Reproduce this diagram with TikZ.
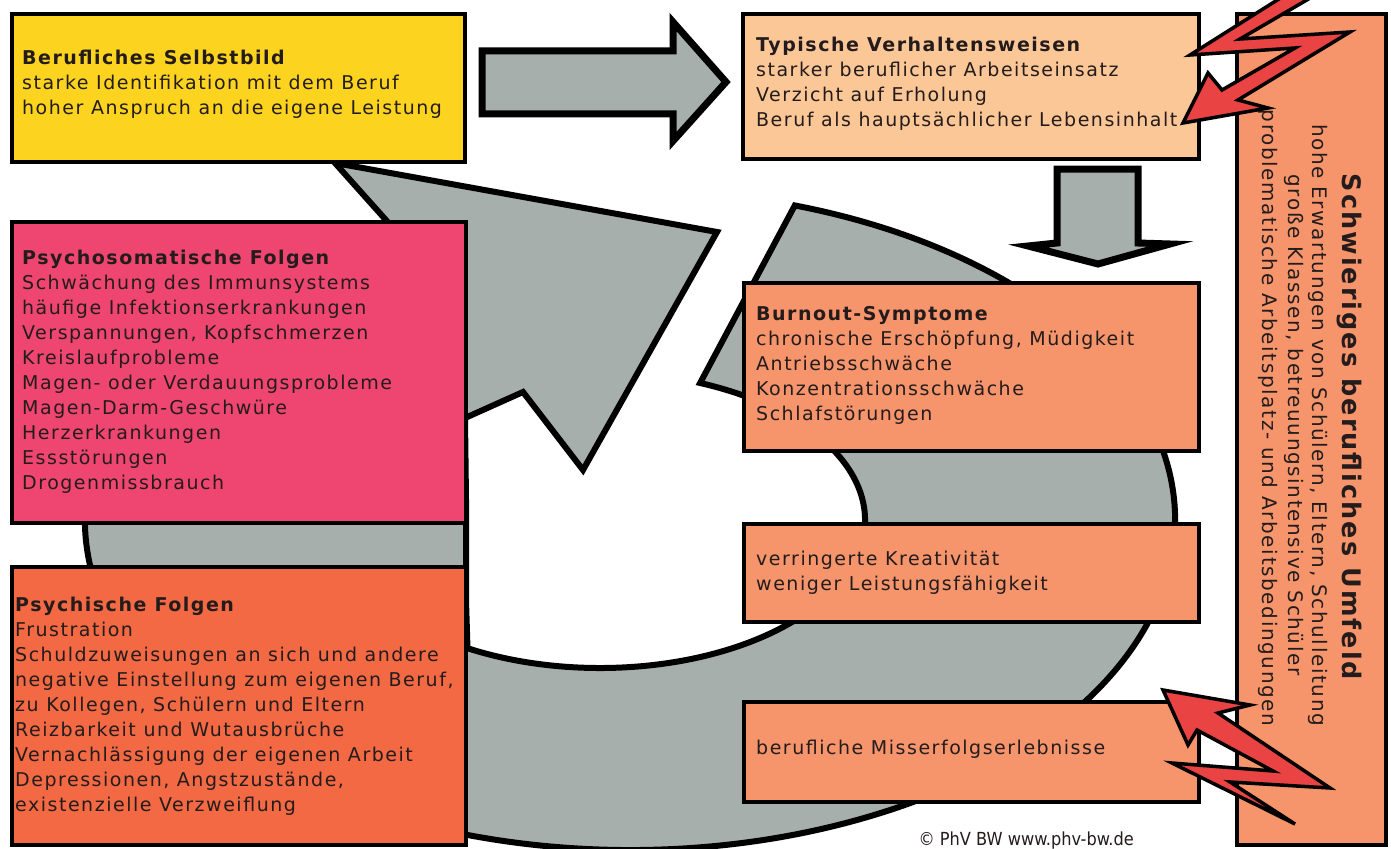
\documentclass[tikz,border=0pt]{standalone}
\usepackage{fontspec}
\setmainfont{DejaVu Sans}[LetterSpace=8, BoldFeatures={LetterSpace=8}]
\newfontfamily\schmalfont{DejaVu Sans Condensed}
\usepackage{tikz}

\definecolor{ringgrau}{HTML}{A7AFAD}
\definecolor{selbstgelb}{HTML}{FCD41F}
\definecolor{pfirsich}{HTML}{FBC797}
\definecolor{somarot}{HTML}{EE4670}
\definecolor{psychorange}{HTML}{F26944}
\definecolor{lachs}{HTML}{F6956C}
\definecolor{blitzrot}{HTML}{E94343}
\definecolor{schrift}{HTML}{241C1C}

\begin{document}
\begin{tikzpicture}[x=1pt, y=-1pt,
  box/.style={draw=black, line width=4pt, inner sep=0pt, anchor=north west},
  txt/.style={anchor=base west, align=left, inner sep=0pt, text=schrift,
    font=\fontsize{19}{25}\selectfont},
  umfeld/.style={rotate=-90, anchor=base, inner sep=0pt, text=schrift,
    font=\fontsize{20}{25}\selectfont},
  ring/.style={draw=black, fill=ringgrau, line width=6pt},
  pfeil/.style={draw=black, fill=ringgrau, line width=7pt},
  blitz/.style={draw=black, fill=blitzrot, line width=3.5pt}]

  \newcommand\AX{545}
  \newcommand\AY{330}
  \newcommand\IX{265}
  \newcommand\IY{148}

  \fill[white] (0,0) rectangle (1391,848);
  \useasboundingbox (0,0) rectangle (1391,848);

  \draw[ring] (717,232) -- (335,163) -- (389.4,223.9)
    arc[start angle=-116.2, end angle=-432.4, x radius=\AX, y radius=\AY]
    -- (700.1,383)
    arc[start angle=-67.8, end angle=120, x radius=\IX, y radius=\IY]
    -- (466,600) -- (466,500) -- (465,418)
    -- (523,392) -- (583,470) -- cycle;

  \node[box, fill=selbstgelb, minimum width=453pt, minimum height=148pt] (selbstbild) at (10,12) {};
  \node[box, fill=pfirsich, minimum width=456pt, minimum height=145pt] (verhalten) at (741,12) {};
  \node[box, fill=somarot, minimum width=454pt, minimum height=301pt] (psychosoma) at (10,220) {};
  \node[box, fill=psychorange, minimum width=454pt, minimum height=278pt] (psychisch) at (10,565) {};
  \node[box, fill=lachs, minimum width=455pt, minimum height=168pt] (burnout) at (742,281) {};
  \node[box, fill=lachs, minimum width=455pt, minimum height=98pt] (kreativ) at (742,522) {};
  \node[box, fill=lachs, minimum width=455pt, minimum height=100pt] (misserfolg) at (742,700) {};
  \node[box, fill=lachs, minimum width=149pt, minimum height=831pt] (umfeld) at (1235,12) {};

  \node[txt] (selbstbildtxt) at (22,115) {\textbf{Berufliches Selbstbild}\\
    starke Identifikation mit dem Beruf\\
    hoher Anspruch an die eigene Leistung};
  \node[txt] (verhaltentxt) at (756,127) {\textbf{Typische Verhaltensweisen}\\
    starker beruflicher Arbeitseinsatz\\
    Verzicht auf Erholung\\
    Beruf als hauptsächlicher Lebensinhalt};
  \node[txt] (psychosomatxt) at (22,489) {\textbf{Psychosomatische Folgen}\\
    Schwächung des Immunsystems\\
    häufige Infektionserkrankungen\\
    Verspannungen, Kopfschmerzen\\
    Kreislaufprobleme\\
    Magen- oder Verdauungsprobleme\\
    Magen-Darm-Geschwüre\\
    Herzerkrankungen\\
    Essstörungen\\
    Drogenmissbrauch};
  \node[txt] (psychischtxt) at (15,811) {\textbf{Psychische Folgen}\\
    Frustration\\
    Schuldzuweisungen an sich und andere\\
    negative Einstellung zum eigenen Beruf,\\
    zu Kollegen, Schülern und Eltern\\
    Reizbarkeit und Wutausbrüche\\
    Vernachlässigung der eigenen Arbeit\\
    Depressionen, Angstzustände,\\
    existenzielle Verzweiflung};
  \node[txt] (burnouttxt) at (756,420) {\textbf{Burnout-Symptome}\\
    chronische Erschöpfung, Müdigkeit\\
    Antriebsschwäche\\
    Konzentrationsschwäche\\
    Schlafstörungen};
  \node[txt] (kreativtxt) at (756,590) {verringerte Kreativität\\
    weniger Leistungsfähigkeit};
  \node[txt] (misserfolgtxt) at (756,754) {berufliche Misserfolgserlebnisse};

  \node[umfeld, font=\fontsize{25.5}{30}\selectfont\bfseries] (umfeldtitel) at (1342,427) {Schwieriges berufliches Umfeld};
  \node[umfeld] (umfeldeins) at (1312,425) {hohe Erwartungen von Schülern, Eltern, Schulleitung};
  \node[umfeld] (umfeldzwei) at (1288,425) {große Klassen, betreuungsintensive Schüler};
  \node[umfeld] (umfelddrei) at (1262,418) {problematische Arbeitsplatz- und Arbeitsbedingungen};

  \draw[pfeil] (482,51) -- (673,51) -- (673,22) -- (726,82) -- (673,141)
    -- (673,114) -- (482,114) -- cycle;
  \draw[pfeil] (1057,169) -- (1138,169) -- (1138,243) -- (1170,244)
    -- (1098,264) -- (1028,246) -- (1057,243) -- cycle;

  \draw[blitz] (1309,-20) -- (1190,55) -- (1295,48) -- (1222,90) -- (1208,73)
    -- (1183,123) -- (1268,108) -- (1238,100) -- (1350,32) -- (1240,39)
    -- (1341,-20) -- cycle;
  \draw[blitz] (1163,690) -- (1250,705) -- (1218,713) -- (1330,788)
    -- (1230,782) -- (1295,824) -- (1172,763) -- (1273,771) -- (1197,730)
    -- (1188,745) -- cycle;

  \node[anchor=base east, inner sep=0pt, text=schrift,
    font=\schmalfont\fontsize{18}{20}\selectfont] (copyright) at (1134,845) {© PhV BW www.phv-bw.de};

\end{tikzpicture}
\end{document}
